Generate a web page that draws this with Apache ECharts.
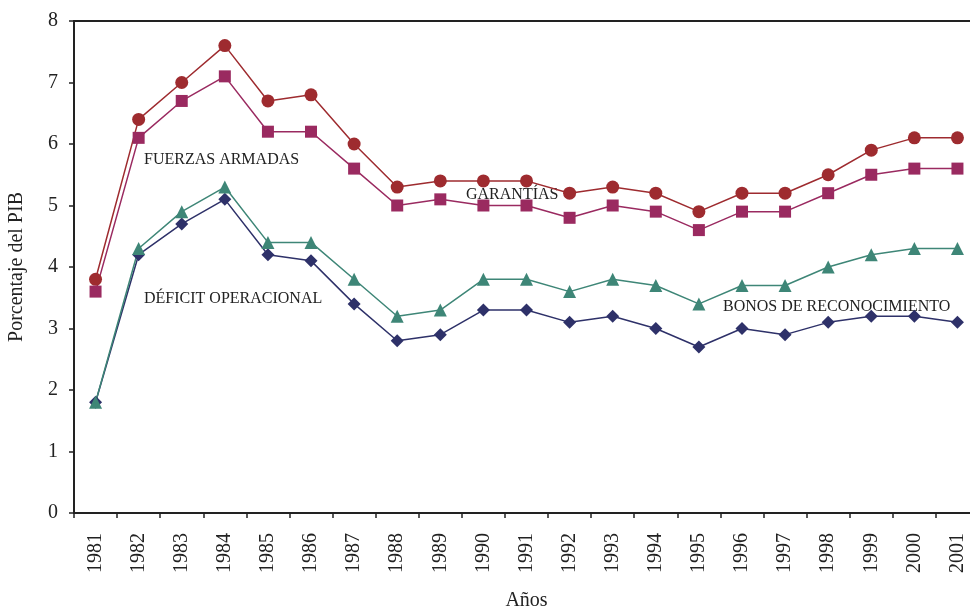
<!DOCTYPE html>
<html>
<head>
<meta charset="utf-8">
<script src="https://cdn.jsdelivr.net/npm/echarts@6/dist/echarts.min.js"></script>
<style>html,body{margin:0;padding:0;background:#fff;}#c{width:970px;height:609px;}</style>
</head>
<body>
<div id="c"></div>
<script>
const years = ['1981','1982','1983','1984','1985','1986','1987','1988','1989','1990','1991','1992','1993','1994','1995','1996','1997','1998','1999','2000','2001'];
const fuerzasArmadas = [3.8,6.4,7.0,7.6,6.7,6.8,6.0,5.3,5.4,5.4,5.4,5.2,5.3,5.2,4.9,5.2,5.2,5.5,5.9,6.1,6.1];
const garantias = [3.6,6.1,6.7,7.1,6.2,6.2,5.6,5.0,5.1,5.0,5.0,4.8,5.0,4.9,4.6,4.9,4.9,5.2,5.5,5.6,5.6];
const bonos = [1.8,4.3,4.9,5.3,4.4,4.4,3.8,3.2,3.3,3.8,3.8,3.6,3.8,3.7,3.4,3.7,3.7,4.0,4.2,4.3,4.3];
const deficit = [1.8,4.2,4.7,5.1,4.2,4.1,3.4,2.8,2.9,3.3,3.3,3.1,3.2,3.0,2.7,3.0,2.9,3.1,3.2,3.2,3.1];

const font = 'Liberation Serif';
const chart = echarts.init(document.getElementById('c'), null, {renderer:'canvas'});

function ser(name, data, color, symbol, size) {
  return {
    name, type:'line', data, symbol, symbolSize:size,
    itemStyle:{color:color}, lineStyle:{color:color, width:1.5},
    emphasis:{disabled:true}, animation:false, z:3
  };
}

chart.setOption({
  animation:false,
  textStyle:{fontFamily:font},
  grid:{left:74, top:21, right:-9, bottom:96, containLabel:false, outerBoundsMode:'none'},
  xAxis:[{
    type:'category', data:years, boundaryGap:true,
    name:'Años', nameLocation:'middle', nameGap:78,
    nameTextStyle:{fontFamily:font, fontSize:20, color:'#222'},
    axisLine:{lineStyle:{color:'#222', width:2}},
    axisTick:{show:true, length:5, alignWithLabel:false, lineStyle:{color:'#222', width:1.5}},
    axisLabel:{rotate:90, fontFamily:font, fontSize:20, color:'#222', margin:20, interval:0},
    splitLine:{show:false}
  },{
    type:'category', data:years, position:'top',
    axisLine:{show:true, lineStyle:{color:'#222', width:2}},
    axisTick:{show:false}, axisLabel:{show:false}, splitLine:{show:false}
  }],
  yAxis:{
    type:'value', min:0, max:8, interval:1,
    name:'Porcentaje del PIB', nameLocation:'middle', nameGap:47,
    nameTextStyle:{fontFamily:font, fontSize:20, color:'#222'},
    axisLine:{show:true, lineStyle:{color:'#222', width:2}},
    axisTick:{show:true, length:5, lineStyle:{color:'#222', width:1.5}},
    axisLabel:{fontFamily:font, fontSize:20, color:'#222', margin:16},
    splitLine:{show:false}
  },
  series:[
    ser('Fuerzas Armadas', fuerzasArmadas, '#9E2B2F', 'circle', 13),
    ser('Garantías', garantias, '#9A2A60', 'rect', 12),
    ser('Déficit operacional', deficit, '#2E3169', 'diamond', 13),
    ser('Bonos de reconocimiento', bonos, '#3E8677', 'triangle', 13)
  ],
  graphic:[
    {type:'text', left:144, top:152, style:{text:'FUERZAS ARMADAS', font:'16px "Liberation Serif"', fill:'#222'}},
    {type:'text', left:466, top:187, style:{text:'GARANTÍAS', font:'16px "Liberation Serif"', fill:'#222'}},
    {type:'text', left:144, top:291, style:{text:'DÉFICIT OPERACIONAL', font:'16px "Liberation Serif"', fill:'#222'}},
    {type:'text', left:723, top:299, style:{text:'BONOS DE RECONOCIMIENTO', font:'16px "Liberation Serif"', fill:'#222'}}
  ]
});
</script>
</body>
</html>
